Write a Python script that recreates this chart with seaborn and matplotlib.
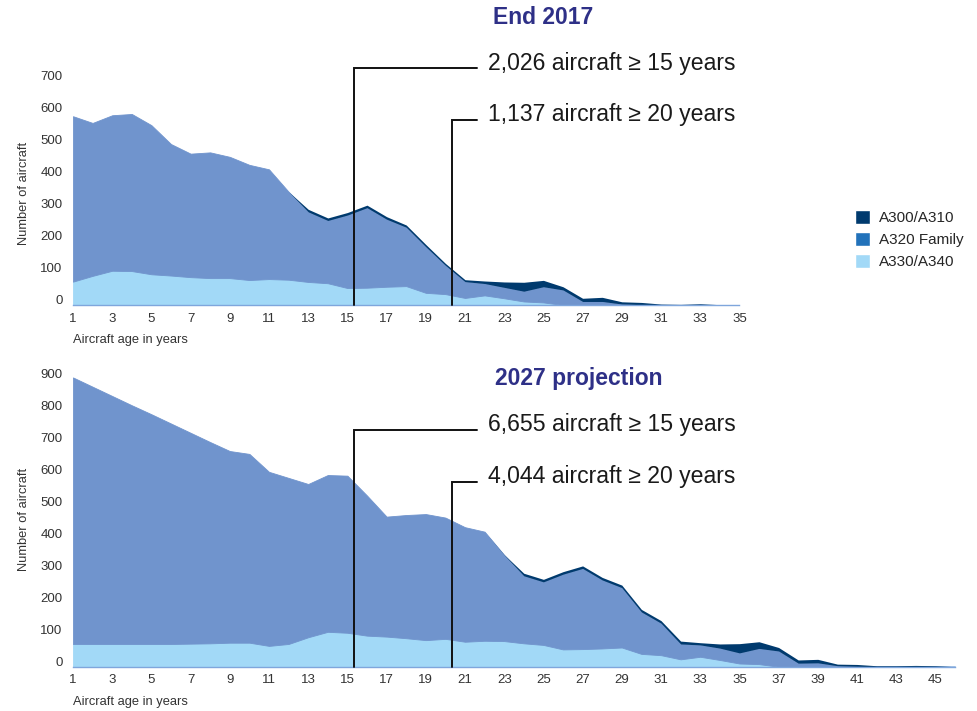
import matplotlib
matplotlib.use("Agg")
import matplotlib.pyplot as plt
import seaborn as sns
from matplotlib.patches import Patch
from matplotlib.transforms import ScaledTranslation

# values (number of aircraft per age year)
ages_2017 = list(range(1, 36))
a330_2017 = [73, 91, 107, 106, 96, 92, 87, 84, 84, 78, 81, 79, 72, 68, 53, 54, 57, 59,
             38, 34, 22, 30, 21, 11, 8, 0, 0, 0, 0, 0, 0, 0, 0, 0, 0]
a320_2017 = [517, 478, 486, 491, 466, 411, 386, 393, 379, 360, 343, 275, 219, 196, 228,
             250, 211, 184, 144, 90, 51, 37, 34, 32, 49, 47, 11, 11, 3, 1, 0, 0, 0, 0, 0]
a300_2017 = [0, 0, 0, 0, 0, 0, 0, 0, 0, 0, 0, 0, 8, 8, 8, 8, 8, 7, 7, 6, 6, 8, 17, 28,
             20, 10, 10, 13, 7, 7, 3, 2, 4, 1, 0]

ages_2027 = list(range(1, 47))
a330_2027 = [71, 71, 71, 71, 71, 71, 72, 73, 75, 75, 65, 71, 92, 109, 106, 97, 94, 89,
             83, 87, 78, 81, 80, 73, 68, 54, 55, 57, 60, 40, 36, 23, 31, 21, 10, 8,
             0, 0, 0, 0, 0, 0, 0, 0, 0, 0]
a320_2027 = [833, 804, 775, 746, 718, 689, 659, 629, 599, 590, 544, 519, 479, 490, 491,
             438, 375, 385, 394, 379, 358, 341, 269, 211, 197, 235, 252, 214, 187, 131,
             100, 48, 37, 37, 33, 49, 49, 11, 12, 3, 1, 0, 0, 0, 0, 0]
a300_2027 = [0] * 22 + [1, 8, 8, 8, 8, 8, 8, 8, 8, 9, 7, 13, 29, 21, 11, 10, 11, 5, 6,
                        3, 3, 4, 3, 0]

notes_2017 = [(15, "2,026 aircraft \u2265 15 years"), (20, "1,137 aircraft \u2265 20 years")]
notes_2027 = [(15, "6,655 aircraft \u2265 15 years"), (20, "4,044 aircraft \u2265 20 years")]

DARK = "#003a6e"
MID = "#7094cd"
LIGHT = "#a2d9f7"
A320_LEGEND = "#2272ba"
TITLE = "#2e3087"
TXT = "#333333"

sns.set_theme(style="white")
plt.rcParams["font.family"] = ["Liberation Sans", "DejaVu Sans"]

fig = plt.figure(figsize=(9.78, 7.11), dpi=100)
ax1 = fig.add_axes([73 / 978, 406 / 711, 666.4 / 978, 224 / 711])
ax2 = fig.add_axes([73 / 978, 44.3 / 711, 882 / 978, 294.4 / 711])


def draw_panel(ax, ages, a330, a320, a300, ymax, yticks, notes):
    polys = ax.stackplot(ages, a330, a320, a300, colors=[LIGHT, MID, DARK])
    for poly, c in zip(polys, [LIGHT, MID, DARK]):
        poly.set_edgecolor(c)
        poly.set_linewidth(0.6 if c != DARK else 0)

    ax.set_xlim(ages[0], ages[-1])
    ax.set_ylim(0, ymax)
    ax.set_xticks(range(ages[0], ages[-1] + 1, 2))
    ax.set_yticks(yticks)
    ax.tick_params(axis="x", length=0, labelsize=9.5, colors=TXT, pad=5.5)
    ax.tick_params(axis="y", length=0, labelsize=9.5, colors=TXT, pad=7.5)
    # the reference prints the y labels a little above their grid value
    shift = ScaledTranslation(0, 0.05, fig.dpi_scale_trans)
    for lab in ax.get_yticklabels():
        lab.set_transform(lab.get_transform() + shift)

    sns.despine(ax=ax, left=True)
    ax.spines["bottom"].set_color("#7fa6dc")
    ax.spines["bottom"].set_linewidth(1)
    ax.grid(False)

    ax.set_ylabel("Number of aircraft", fontsize=9.3, color=TXT)
    ax.yaxis.set_label_coords(-43 / (ax.get_position().width * 978), 0.5)
    ax.annotate("Aircraft age in years", xy=(0, 0), xycoords="axes fraction",
                xytext=(0, -35), textcoords="offset pixels",
                ha="left", va="center", fontsize=9.3, color=TXT)

    # leader lines with the counts (drawn a few pixels right of the tick, as in the source)
    nudge = ax.transData + ScaledTranslation(0.065, 0, fig.dpi_scale_trans)
    for (age, label), ytop in zip(notes, [740, 578]):
        ax.plot([age, age, 21.27], [0, ytop, ytop], color="#111111", lw=1.4,
                clip_on=False, solid_joinstyle="miter", zorder=5, transform=nudge)
        ax.text(22.15, ytop + 16, label, ha="left", va="center",
                fontsize=16.6, color="#1a1a1a")


draw_panel(ax1, ages_2017, a330_2017, a320_2017, a300_2017, 700,
           range(0, 701, 100), notes_2017)
draw_panel(ax2, ages_2027, a330_2027, a320_2027, a300_2027, 920,
           range(0, 901, 100), notes_2027)

fig.text(543 / 978, 1 - 18 / 711, "End 2017", ha="center", va="center",
         fontsize=16.5, fontweight="bold", color=TITLE)
fig.text(579 / 978, 1 - 379 / 711, "2027 projection", ha="center", va="center",
         fontsize=16.5, fontweight="bold", color=TITLE)

handles = [Patch(facecolor=DARK, label="A300/A310"),
           Patch(facecolor=A320_LEGEND, label="A320 Family"),
           Patch(facecolor=LIGHT, label="A330/A340")]
fig.legend(handles=handles, loc="upper left", bbox_to_anchor=(855 / 978, 1 - 210 / 711),
           frameon=False, fontsize=11, handlelength=1.0, handleheight=1.0,
           handletextpad=0.6, labelspacing=0.46, borderaxespad=0, borderpad=0)

fig.savefig("out.png", dpi=100)
